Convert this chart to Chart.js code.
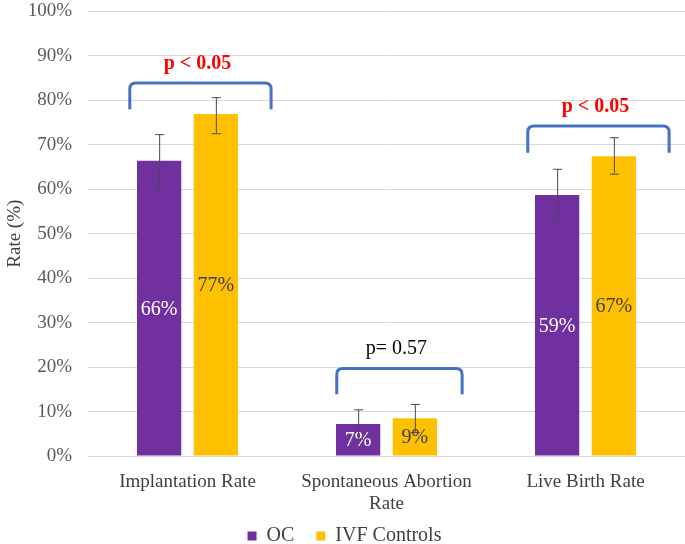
<!DOCTYPE html>
<html>
<head>
<meta charset="utf-8">
<script src="https://cdn.jsdelivr.net/npm/chart.js@4.4.1/dist/chart.umd.min.js"></script>
<style>
  html, body { margin: 0; padding: 0; background: #fff; }
  #wrap { width: 685px; height: 544px; }
</style>
</head>
<body>
<div id="wrap"><canvas id="rateChart" width="685" height="544"></canvas></div>
<script>
var categories = [['Implantation Rate'], ['Spontaneous Abortion', 'Rate'], ['Live Birth Rate']];
var seriesNames = ['OC', 'IVF Controls'];
var ocValues = [66.4, 7.2, 58.7];
var ivfValues = [76.9, 8.5, 67.4];
var ocErrLow = [60.3, 3.9, 52.7];
var ocErrHigh = [72.4, 10.5, 64.6];
var ivfErrLow = [72.6, 5.4, 63.5];
var ivfErrHigh = [80.7, 11.7, 71.7];
var pTexts = ['p < 0.05', 'p= 0.57', 'p < 0.05'];
var pSignificant = [true, false, true];
var bracketTop = [83.9, 19.7, 74.2];
var bracketBottom = [78.0, 13.9, 68.2];
var yTicks = [0, 10, 20, 30, 40, 50, 60, 70, 80, 90, 100];

var serif = "'Liberation Serif', 'Times New Roman', serif";

// error bars + value labels + p-value brackets
var extras = {
    id: 'extras',
    afterDatasetsDraw: function(chart) {
        var ctx = chart.ctx;
        var x = chart.scales.x, y = chart.scales.y;
        var lows = [ocErrLow, ivfErrLow], highs = [ocErrHigh, ivfErrHigh];
        ctx.save();
        chart.data.datasets.forEach(function(ds, di) {
            var meta = chart.getDatasetMeta(di);
            meta.data.forEach(function(bar, i) {
                // label
                ctx.font = '20px ' + serif;
                ctx.fillStyle = di === 0 ? '#ffffff' : '#404040';
                ctx.textAlign = 'center';
                ctx.textBaseline = 'middle';
                ctx.fillText(Math.round(ds.data[i]) + '%', bar.x, y.getPixelForValue(ds.data[i] / 2) + 1);
                var yl = y.getPixelForValue(lows[di][i]);
                var yh = y.getPixelForValue(highs[di][i]);
                ctx.strokeStyle = '#4a4a4a';
                ctx.lineWidth = 1;
                ctx.beginPath();
                ctx.moveTo(bar.x + 0.5, yl); ctx.lineTo(bar.x + 0.5, yh);
                ctx.moveTo(bar.x - 4, yl + 0.5); ctx.lineTo(bar.x + 5, yl + 0.5);
                ctx.moveTo(bar.x - 4, yh + 0.5); ctx.lineTo(bar.x + 5, yh + 0.5);
                ctx.stroke();
            });
        });
        var step = x.getPixelForValue(1) - x.getPixelForValue(0);
        for (var i = 0; i < categories.length; i++) {
            var cx = x.getPixelForValue(i) + step * 0.065;
            var half = i === 1 ? step * 0.315 : step * 0.355;
            var yt = y.getPixelForValue(bracketTop[i]);
            var yb = y.getPixelForValue(bracketBottom[i]);
            var r = 6;
            ctx.strokeStyle = '#4472C4';
            ctx.lineWidth = 3;
            ctx.beginPath();
            ctx.moveTo(cx - half, yb);
            ctx.lineTo(cx - half, yt + r);
            ctx.quadraticCurveTo(cx - half, yt, cx - half + r, yt);
            ctx.lineTo(cx + half - r, yt);
            ctx.quadraticCurveTo(cx + half, yt, cx + half, yt + r);
            ctx.lineTo(cx + half, yb);
            ctx.stroke();
            ctx.textAlign = 'center';
            ctx.textBaseline = 'alphabetic';
            if (pSignificant[i]) {
                ctx.font = 'bold 20px ' + serif;
                ctx.fillStyle = '#ff0000';
            } else {
                ctx.font = '20px ' + serif;
                ctx.fillStyle = '#000000';
            }
            ctx.fillText(pTexts[i], cx - 3, yt - 14);
        }
        ctx.restore();
    }
};

var ctx = document.getElementById('rateChart').getContext('2d');
var chart = new Chart(ctx, {
    type: 'bar',
    data: {
        labels: categories,
        datasets: [{
            label: seriesNames[0],
            data: ocValues,
            backgroundColor: '#7030A0',
            categoryPercentage: 0.57,
            barPercentage: 0.78
        }, {
            label: seriesNames[1],
            data: ivfValues,
            backgroundColor: '#FFC000',
            categoryPercentage: 0.57,
            barPercentage: 0.78
        }]
    },
    options: {
        responsive: false,
        animation: false,
        layout: { padding: { top: 0, right: 0, left: 4, bottom: -12 } },
        plugins: {
            legend: {
                position: 'bottom',
                labels: {
                    boxWidth: 9,
                    boxHeight: 9,
                    color: '#404040',
                    font: { family: serif, size: 20, lineHeight: 1 },
                    padding: 2,
                    generateLabels: function(chart) {
                        var items = Chart.defaults.plugins.legend.labels.generateLabels(chart);
                        items[0].text = items[0].text + '    ';
                        return items;
                    }
                }
            },
            tooltip: { enabled: false }
        },
        scales: {
            x: {
                afterFit: function(s) { s.height = 68; },
                grid: { display: false },
                border: { color: '#d9d9d9' },
                ticks: { color: '#404040', font: { family: serif, size: 19, lineHeight: 1.15 }, padding: 7, maxRotation: 0 }
            },
            y: {
                min: 0,
                max: 100,
                afterBuildTicks: function(s) { s.ticks = yTicks.map(function(v) { return { value: v }; }); },
                afterFit: function(s) { s.width = 84; },
                grid: { color: '#d9d9d9', drawTicks: true, tickLength: 16, tickColor: 'rgba(0,0,0,0)' },
                border: { display: false },
                ticks: {
                    color: '#595959',
                    font: { family: serif, size: 19 },
                    padding: 0,
                    callback: function(v) { return v + '%'; }
                },
                title: {
                    display: true,
                    text: 'Rate (%)',
                    color: '#404040',
                    font: { family: serif, size: 19 },
                    padding: 0
                }
            }
        }
    },
    plugins: [extras]
});
</script>
</body>
</html>
